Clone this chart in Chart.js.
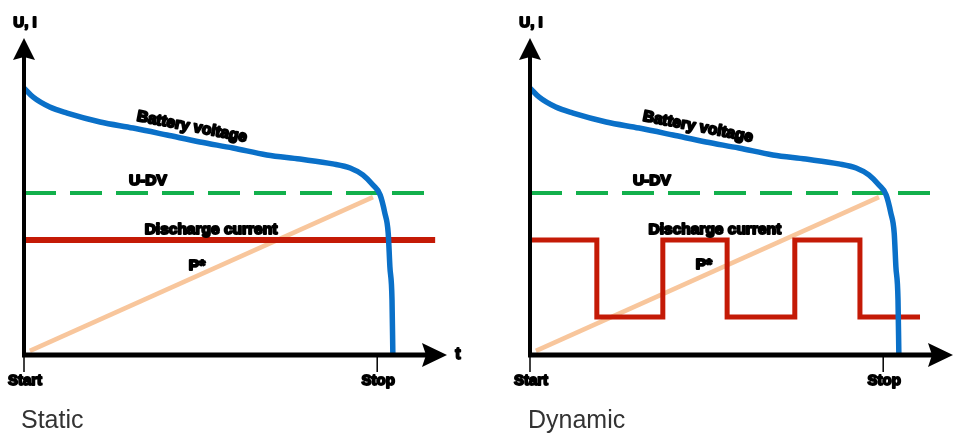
<!DOCTYPE html>
<html><head><meta charset="utf-8">
<script src="https://cdn.jsdelivr.net/npm/chart.js@4/dist/chart.umd.min.js"></script>
<style>
html,body{margin:0;padding:0;background:#fff;}
#wrap{position:relative;width:959px;height:435px;overflow:hidden;background:#fff;}
canvas{position:absolute;top:0;}
.cap{position:absolute;font-family:"Liberation Sans",Arial,sans-serif;font-size:25px;line-height:25px;color:#333;white-space:nowrap;}
</style></head><body>
<div id="wrap">
<canvas id="c1" width="480" height="435" style="left:0"></canvas>
<canvas id="c2" width="479" height="435" style="left:480px"></canvas>
<div class="cap" style="left:21px;top:407px">Static</div>
<div class="cap" style="left:528px;top:407px">Dynamic</div>
</div>
<script>
// ---- data (x: time units 0..100, y: level units 0..100) ----
const timeTickLabels = ['Start', 'Stop'];
const timeTickValues = [0, 83.5];
const yAxisTitle = 'U, I';
const xAxisTitle = 't';
const panelTitles = ['Static', 'Dynamic'];

const batteryTime    = [0, 2.1, 6.1, 10.2, 18.0, 25.8, 33.8, 41.6, 49.4, 57.4, 65.2, 73.0, 77.1, 80.1, 82.5, 84.2, 85.3, 86.1, 86.5, 87.0, 87.2];
const batteryVoltage = [84.2, 81.4, 78.2, 76.3, 73.5, 71.6, 69.4, 67.2, 65.3, 63.1, 61.8, 60.3, 59.0, 56.8, 53.6, 50.5, 44.8, 38.5, 27.8, 17.4, 0];

const cutoffTime    = [0, 97.2];
const cutoffVoltage = [51.1, 51.1];

const capacityTime  = [1.4, 82.5];
const capacityValue = [1.3, 49.8];

const staticTime    = [0, 97.2];
const staticCurrent = [36.3, 36.3];

const dynamicTime    = [0, 15.8, 31.4, 46.6, 62.6, 78.0, 92.2];
const dynamicCurrent = [36.3, 12.0, 36.3, 12.0, 36.3, 12.0, 12.0];

const seriesLabels = ['Battery voltage', 'U-DV', 'Discharge current', 'P*'];

function pts(xs, ys) { return xs.map((x, i) => ({ x: x, y: ys[i] })); }

const FONT = '"Liberation Sans", Arial, sans-serif';

function boldText(ctx, txt, x, y, size, angle, sw) {
  ctx.save();
  ctx.translate(x, y);
  if (angle) ctx.rotate(angle * Math.PI / 180);
  ctx.font = 'bold ' + size + 'px ' + FONT;
  ctx.textAlign = 'center';
  ctx.textBaseline = 'middle';
  ctx.lineJoin = 'round';
  ctx.lineWidth = sw || 1.8;
  ctx.strokeStyle = '#000';
  ctx.fillStyle = '#000';
  ctx.strokeText(txt, 0, 0);
  ctx.fillText(txt, 0, 0);
  ctx.restore();
}

const decorPlugin = {
  id: 'decor',
  afterDatasetsDraw(chart, args, opts) {
    const ctx = chart.ctx, xs = chart.scales.x, ys = chart.scales.y;
    const x0 = xs.getPixelForValue(0), y0 = ys.getPixelForValue(0);
    const xEnd = xs.right, yTop = ys.top;
    ctx.save();
    ctx.strokeStyle = '#000'; ctx.fillStyle = '#000';
    // y axis
    ctx.lineWidth = 4;
    ctx.beginPath(); ctx.moveTo(x0, y0 + 2); ctx.lineTo(x0, yTop + 18); ctx.stroke();
    ctx.beginPath(); ctx.moveTo(x0, yTop); ctx.lineTo(x0 - 11, yTop + 22); ctx.lineTo(x0, yTop + 19); ctx.lineTo(x0 + 11, yTop + 22); ctx.closePath(); ctx.fill();
    // x axis
    ctx.lineWidth = 5;
    ctx.beginPath(); ctx.moveTo(x0 - 2, y0); ctx.lineTo(xEnd - 20, y0); ctx.stroke();
    ctx.beginPath(); ctx.moveTo(xEnd, y0); ctx.lineTo(xEnd - 25, y0 - 12); ctx.lineTo(xEnd - 21, y0); ctx.lineTo(xEnd - 25, y0 + 12); ctx.closePath(); ctx.fill();
    // tick marks + labels
    ctx.lineWidth = 1.5;
    timeTickValues.forEach((v, i) => {
      const px = xs.getPixelForValue(v);
      ctx.beginPath(); ctx.moveTo(px, y0 + 2); ctx.lineTo(px, y0 + 17); ctx.stroke();
      boldText(ctx, timeTickLabels[i], px + 1, y0 + 26, 15);
    });
    ctx.restore();
    // axis titles
    boldText(ctx, yAxisTitle, x0 + 1, yTop - 15, 15);
    if (opts.showT) boldText(ctx, xAxisTitle, xEnd + 11, y0, 16);
    // series labels
    const L = opts.labels;
    boldText(ctx, seriesLabels[0], xs.getPixelForValue(L[0][0]), ys.getPixelForValue(L[0][1]), 15.5, 11, 2);
    boldText(ctx, seriesLabels[1], xs.getPixelForValue(L[1][0]), ys.getPixelForValue(L[1][1]), 15.5, 0, 2);
    boldText(ctx, seriesLabels[2], xs.getPixelForValue(L[2][0]), ys.getPixelForValue(L[2][1]), 15.5, 0, 2);
    boldText(ctx, seriesLabels[3], xs.getPixelForValue(L[3][0]), ys.getPixelForValue(L[3][1]), 15.5, 0, 2);
  }
};

function makeChart(id, currentX, currentY, stepped, pad, showT, labelPos) {
  return new Chart(document.getElementById(id), {
    type: 'line',
    data: {
      datasets: [
        { data: pts(batteryTime, batteryVoltage), borderColor: '#0A70C8', borderWidth: 5.5, cubicInterpolationMode: 'monotone', pointRadius: 0, clip: false, order: 1 },
        { data: pts(currentX, currentY), borderColor: '#C41A06', borderWidth: stepped ? 5 : 6, stepped: stepped, pointRadius: 0, clip: false, order: 2 },
        { data: pts(cutoffTime, cutoffVoltage), borderColor: '#12B04C', borderWidth: 4, borderDash: [32, 14], pointRadius: 0, clip: false, order: 3 },
        { data: pts(capacityTime, capacityValue), borderColor: '#F8C69C', borderWidth: 4.5, pointRadius: 0, clip: false, order: 4 }
      ]
    },
    options: {
      responsive: false,
      animation: false,
      devicePixelRatio: 1,
      layout: { padding: pad },
      plugins: { legend: { display: false }, tooltip: { enabled: false }, decor: { showT: showT, labels: labelPos } },
      scales: {
        x: { type: 'linear', min: 0, max: 100, display: false },
        y: { type: 'linear', min: 0, max: 100, display: false }
      }
    },
    plugins: [decorPlugin]
  });
}

const labelsLeft  = [[39.7, 71.9], [29.3, 54.9], [44.2, 39.4], [40.9, 28.1]];
const labelsRight = [[39.7, 71.9], [28.8, 54.9], [43.7, 39.4], [41.1, 28.4]];

makeChart('c1', staticTime, staticCurrent, false, { left: 24, right: 33, top: 38, bottom: 80 }, true, labelsLeft);
makeChart('c2', dynamicTime, dynamicCurrent, true, { left: 50, right: 6, top: 38, bottom: 80 }, false, labelsRight);
</script>
</body></html>
